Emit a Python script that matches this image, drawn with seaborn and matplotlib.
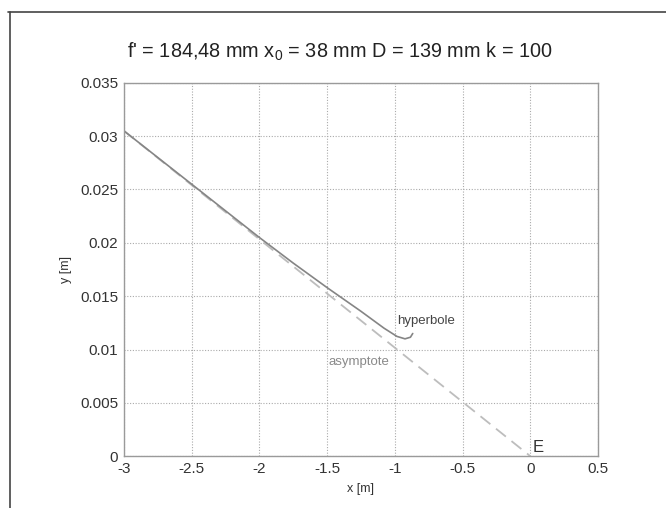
import matplotlib.pyplot as plt
import matplotlib.lines as mlines
import pandas as pd
import seaborn as sns

# values
hyp_x = [-3.0, -2.5, -2.25, -2.0, -1.75, -1.5, -1.25, -1.08, -0.985, -0.925, -0.885, -0.868]
hyp_y = [0.0305, 0.0255, 0.0230, 0.0205, 0.0181, 0.0158, 0.01358, 0.0120, 0.01123, 0.0110, 0.01115, 0.0115]
asym_x = [-3.0, 0.0]
asym_y = [0.0305, 0.0]
x_ticks = [-3, -2.5, -2, -1.5, -1, -0.5, 0, 0.5]
y_ticks = [0, 0.005, 0.01, 0.015, 0.02, 0.025, 0.03, 0.035]
x_tick_labels = ["-3", "-2.5", "-2", "-1.5", "-1", "-0.5", "0", "0.5"]
y_tick_labels = ["0", "0.005", "0.01", "0.015", "0.02", "0.025", "0.03", "0.035"]
title = "f' = 184,48 mm x$_0$ = 38 mm D = 139 mm k = 100"

sns.set_style("whitegrid")
plt.rcParams["font.family"] = ["Liberation Sans", "DejaVu Sans"]
plt.rcParams["mathtext.fontset"] = "custom"
plt.rcParams["mathtext.rm"] = "Liberation Sans"

hyp = pd.DataFrame({"x": hyp_x, "y": hyp_y})
asym = pd.DataFrame({"x": asym_x, "y": asym_y})

fig = plt.figure(figsize=(6.66, 5.08), dpi=100)
ax = fig.add_axes([0.186, 0.102, 0.712, 0.735])

sns.lineplot(data=asym, x="x", y="y", ax=ax, color="#bdbdbd", linewidth=1.3,
             linestyle=(0, (7, 4)), estimator=None, sort=False)
sns.lineplot(data=hyp, x="x", y="y", ax=ax, color="#858585", linewidth=1.2,
             estimator=None, sort=False)

ax.set_xlim(-3, 0.5)
ax.set_ylim(0, 0.035)
ax.set_xticks(x_ticks)
ax.set_xticklabels(x_tick_labels)
ax.set_yticks(y_ticks)
ax.set_yticklabels(y_tick_labels)
ax.grid(True, color="#aaaaaa", linestyle=(0, (1, 1.5)), linewidth=0.8)
for s in ax.spines.values():
    s.set_color("#9a9a9a")
    s.set_linewidth(1.0)
ax.tick_params(direction="in", length=3, color="#9a9a9a", labelsize=11,
               labelcolor="#333333", pad=4)

ax.set_xlabel("x [m]", fontsize=9, color="#333333", labelpad=5)
ax.set_ylabel("y [m]", fontsize=9, color="#333333", labelpad=6)
ax.set_title(title, fontsize=14.3, color="#222222", pad=18, x=0.456)

ax.text(-0.985, 0.01267, "hyperbole", fontsize=9.5, color="#444444", va="center")
ax.text(-1.49, 0.0088, "asymptote", fontsize=9.5, color="#8a8a8a", va="center")
ax.text(0.02, 0.0001, "E", fontsize=12, color="#333333", va="bottom")

# page frame (top and left edges)
fig.add_artist(mlines.Line2D([8 / 666, 1.0], [1 - 12 / 508, 1 - 12 / 508],
                             transform=fig.transFigure, color="#444444", linewidth=1.2))
fig.add_artist(mlines.Line2D([10 / 666, 10 / 666], [0.0, 1 - 12 / 508],
                             transform=fig.transFigure, color="#444444", linewidth=1.2))

fig.savefig("out.png", dpi=100)
